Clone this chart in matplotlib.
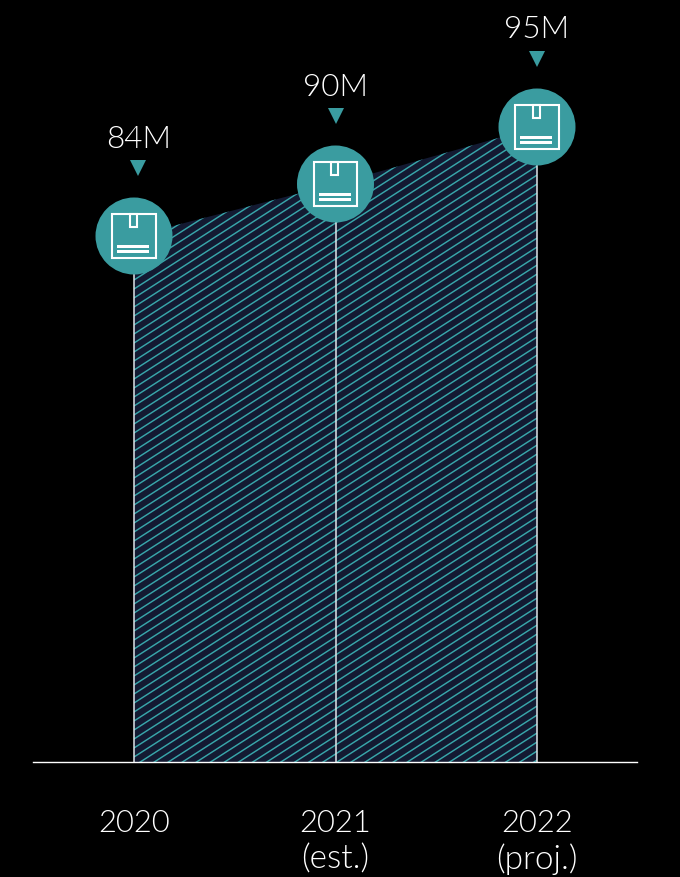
import numpy as np
import matplotlib
matplotlib.use("Agg")
import matplotlib.pyplot as plt
from matplotlib.collections import LineCollection
from matplotlib.patches import Polygon, Rectangle, Circle
from matplotlib.transforms import Affine2D

years = ["2020", "2021", "2022"]
notes = ["", "(est.)", "(proj.)"]
value_labels = ["84M", "90M", "95M"]
# drawn height of each point above the baseline
heights = [526, 578, 635]

teal = "#3a9ca0"
navy = "#131a32"
px = 201.5  # pixels per category

plt.rcParams['font.family'] = ['Lato', 'DejaVu Sans']

fig = plt.figure(figsize=(6.8, 8.77), dpi=100, facecolor="black")
ax = fig.add_axes([0, 0, 1, 1])
ax.set_xlim(-134/px, (680-134)/px)
ax.set_ylim(-115, 762)
ax.axis("off")

xs = np.arange(len(years))

# area with its own hatch, the slope of the hatch is not one matplotlib has
corners = list(zip(xs, heights)) + [(xs[-1], 0), (xs[0], 0)]
area = Polygon(corners, closed=True, fc=navy, ec="none", zorder=1)
ax.add_patch(area)
slope = 0.64*px
segs = []
for c in np.arange(-400, 800, 9.0):
    segs.append([(xs[0], c), (xs[-1], c + slope*(xs[-1]-xs[0]))])
hatch = LineCollection(segs, colors="#38a6aa", linewidths=1.05, zorder=2)
ax.add_collection(hatch)
hatch.set_clip_path(area)

# verticals and baseline
ax.vlines(xs + np.array([0, 0.5, 0])/px, 0, heights, color="#dfe4e8", lw=1.1, zorder=3)
ax.plot([(33-134)/px, (637-134)/px], [0, 0], color="white", lw=1.0, zorder=4)


def icon_parts(tr):
    ax.add_patch(Circle((0, 0), 38.5, fc=teal, ec="none", transform=tr, zorder=5))
    ax.add_patch(Rectangle((-22, -22), 43.5, 44.5, fc="none", ec="white", lw=1.5, transform=tr, zorder=6))
    ax.add_patch(Rectangle((-4.5, 9.5), 7, 12.5, fc="none", ec="white", lw=1.5, transform=tr, zorder=6))
    ax.add_patch(Rectangle((-17, -12), 32, 3, fc="white", ec="none", transform=tr, zorder=6))
    ax.add_patch(Rectangle((-17, -17), 32, 3, fc="white", ec="none", transform=tr, zorder=6))


for x, h, lab, yr, note in zip(xs, heights, value_labels, years, notes):
    cx, cy = ax.transData.transform((x, h))
    icon_parts(Affine2D().translate(cx, cy))
    # triangle and value over the circle
    ax.plot([x + 4/px*(x == 0)], [h + 68], marker="v", ms=11.5, color=teal, mew=0, zorder=6)
    ax.text(x + 5/px*(x == 0), h + 97, lab, color="white", fontsize=22.7, fontweight=300,
            ha="center", va="center")
    ax.text(x, -62, yr, color="white", fontsize=22.3, fontweight=300, ha="center", va="center")
    if note:
        ax.text(x, -97, note, color="white", fontsize=24, fontweight=300, ha="center", va="center")

fig.savefig("out.png", dpi=100, facecolor="black")
